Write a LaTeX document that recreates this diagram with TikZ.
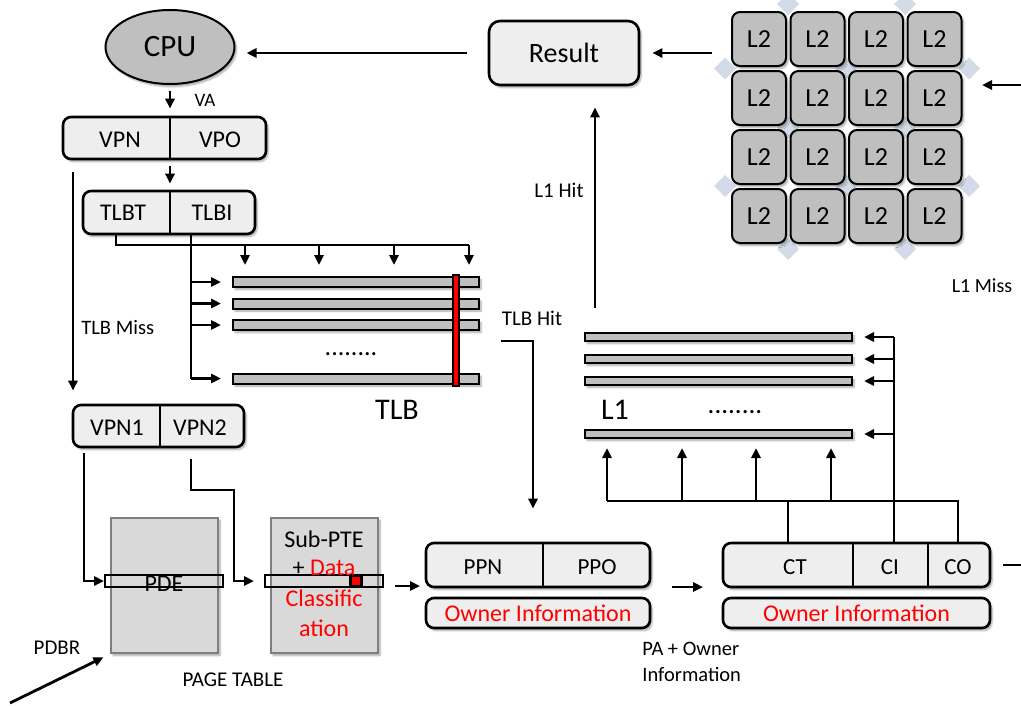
\documentclass[tikz,border=0pt]{standalone}
\usepackage{fontspec}
\setmainfont{Carlito}
\usetikzlibrary{arrows.meta,shapes.geometric,shadows.blur,calc}
\newcommand\fsz[1]{\fontsize{#1}{#1}\selectfont}
\definecolor{cpugray}{HTML}{BFBFBF}
\definecolor{rowgray}{HTML}{BFBFBF}
\definecolor{pagegray}{HTML}{D9D9D9}
\definecolor{pageedge}{HTML}{7F7F7F}
\definecolor{boxfill}{HTML}{EEEEEE}
\definecolor{diamcol}{HTML}{D3DBE8}
\begin{document}
\begin{tikzpicture}[x=1pt,y=-1pt,line width=2.8pt,
  arr/.style={-{Triangle[length=10pt,width=9pt]},line width=2.8pt},
  shade/.style={blur shadow={shadow blur steps=6,shadow xshift=2pt,shadow yshift=-2.5pt,shadow opacity=35}},
  field/.style={draw,rounded corners=8pt,fill=boxfill,line width=2.6pt,inner sep=0pt,shade},
  row/.style={draw,fill=rowgray,line width=2pt,inner sep=0pt,shade},
  tile/.style={draw,fill=rowgray,rounded corners=8pt,line width=2pt,inner sep=0pt,
    minimum width=54pt,minimum height=54pt,font=\fsz{26},shade},
  page/.style={draw=pageedge,fill=pagegray,line width=2.4pt,inner sep=0pt,
    minimum width=107pt,minimum height=135pt,shade},
  slot/.style={draw,line width=2pt,inner sep=0pt,minimum width=118pt,minimum height=12pt},
  lbl/.style={inner sep=0pt},
  divider/.style={line width=1.6pt}]
\useasboundingbox (0,0) rectangle (1021,705);

% ---------- CPU and result ----------
\node[ellipse,draw,fill=cpugray,line width=2pt,minimum width=129pt,minimum height=74pt,
  font=\fsz{31},shade] (cpu) at (170,47) {CPU};
\node[field,rounded corners=11pt,minimum width=150pt,minimum height=64pt,font=\fsz{28}]
  (result) at (564,53) {Result};
\draw[arr,shorten <=21pt,shorten >=11pt] (result.west) -- (result.west -| cpu.east);

% ---------- virtual address ----------
\node[field,minimum width=203pt,minimum height=42pt] (va) at (164.5,138) {};
\draw[divider] (170,117) -- (170,159);
\node[lbl,font=\fsz{24}] (vpn) at (120,140) {VPN};
\node[lbl,font=\fsz{24}] (vpo) at (220,140) {VPO};
\draw[arr,shorten <=6pt,shorten >=7pt] (cpu.south) -- (va.north -| cpu.south);
\node[lbl,font=\fsz{19}] (valbl) at (205,100) {VA};

\node[field,minimum width=172pt,minimum height=43pt] (tlbidx) at (169,212.5) {};
\draw[divider] (170,191) -- (170,234);
\node[lbl,font=\fsz{24}] (tlbt) at (123,213) {TLBT};
\node[lbl,font=\fsz{24}] (tlbi) at (212,213) {TLBI};
\draw[arr,shorten <=6pt,shorten >=6pt] (va.south -| cpu.south) -- (tlbidx.north -| cpu.south);

% ---------- TLB ----------
\foreach \i/\y in {1/282,2/303.5,3/325,4/378.5}
  \node[row,minimum width=246pt,minimum height=10pt] (tlbrow\i) at (356,\y) {};
\node[draw,fill=red,line width=2pt,inner sep=0pt,minimum width=6pt,minimum height=111pt]
  (tlbhit) at (456,330.5) {};
\node[lbl,font=\fsz{26}] (tlbdots) at (351,354) {........};
\node[lbl,font=\fsz{30}] (tlblbl) at (397,410) {TLB};

\coordinate (tapT) at (116,234);
\coordinate (tapI) at (191,234);
\coordinate (busR) at (469,245);
\draw (tapT) |- (busR);
\foreach \x in {245,319,394,469}
  \draw[arr,shorten >=12pt] (\x,245) -- (\x,277);
\draw (tapI) -- (tapI |- tlbrow4);
\foreach \i in {1,...,4}
  \draw[arr,shorten >=11pt] (tapI |- tlbrow\i) -- (tlbrow\i.west);

% ---------- TLB miss path ----------
\node[field,minimum width=171pt,minimum height=42pt] (vpn12) at (158.5,426) {};
\draw[divider] (160,405) -- (160,447);
\node[lbl,font=\fsz{24}] (vpn1) at (117,428) {VPN1};
\node[lbl,font=\fsz{24}] (vpn2) at (200,428) {VPN2};
\coordinate (missTop) at (73,172);
\draw[arr,shorten >=13pt] (missTop) -- (missTop |- vpn12.north);
\node[lbl,font=\fsz{20.5},anchor=west] (misslbl) at (80,328) {TLB Miss};

% ---------- page table ----------
\node[page] (pde) at (164.5,585.5) {};
\node[page] (pte) at (324.5,585.5) {};
\node[slot] (pdeslot) at (164,581) {};
\node[slot] (pteslot) at (324,581) {};
\node[lbl,font=\fsz{24}] (pdelbl) at (164,584) {PDE};
\node[draw,fill=red,line width=2.4pt,inner sep=0pt,minimum width=11pt,minimum height=11pt]
  (classbit) at (356,581) {};
\node[lbl,font=\fsz{24}] (ptel1) at (324,539) {Sub-PTE};
\node[lbl,font=\fsz{24}] (ptel2) at (324,568) {+ \textcolor{red}{Data}};
\node[lbl,font=\fsz{24},text=red] (ptel3) at (324,598) {Classific};
\node[lbl,font=\fsz{24},text=red] (ptel4) at (324,628) {ation};

\coordinate (v1out) at (84,453);
\coordinate (v2out) at (191,459);
\coordinate (v2bend) at (234,490);
\draw[arr] (v1out) |- (pdeslot.west);
\draw[arr,shorten >=10pt] (v2out) |- (v2bend) |- (pteslot.west);

\node[lbl,font=\fsz{21}] (pdbr) at (57,648) {PDBR};
\coordinate (pdbrS) at (10,703);
\draw[arr,shorten >=7pt] (pdbrS) -- (pde.south west);
\node[lbl,font=\fsz{21}] (ptlbl) at (233,680) {PAGE TABLE};

% ---------- physical address ----------
\node[field,minimum width=224pt,minimum height=44pt] (pa) at (538,565) {};
\draw[divider] (543,543) -- (543,587);
\node[lbl,font=\fsz{23}] (ppn) at (483,567) {PPN};
\node[lbl,font=\fsz{23}] (ppo) at (597,567) {PPO};
\node[field,minimum width=224pt,minimum height=30pt,font=\fsz{24},text=red]
  (own1) at (538,613) {Owner Information};
\coordinate (pain) at (426,586);
\draw[arr,shorten <=11pt,shorten >=6pt] (pteslot.east |- pain) -- (pain);

\coordinate (hitStart) at (501,341);
\coordinate (hitBend) at (533,341);
\draw[arr,shorten >=33pt] (hitStart) -- (hitBend) -- (hitBend |- pa.north);
\node[lbl,font=\fsz{21}] (hitlbl) at (532,318) {TLB Hit};

% ---------- cache address ----------
\node[field,minimum width=267pt,minimum height=44pt] (ca) at (856.5,565) {};
\draw[divider] (853,543) -- (853,587);
\draw[divider] (928,543) -- (928,587);
\node[lbl,font=\fsz{23}] (ct) at (795,567) {CT};
\node[lbl,font=\fsz{23}] (ci) at (890,567) {CI};
\node[lbl,font=\fsz{23}] (co) at (958,567) {CO};
\node[field,minimum width=267pt,minimum height=30pt,font=\fsz{24},text=red]
  (own2) at (856.5,613) {Owner Information};
\coordinate (caout) at (650,587);
\coordinate (cain) at (723,587);
\draw[arr,shorten <=22pt,shorten >=20pt] (caout) -- (cain);
\node[lbl,font=\fsz{20.5},anchor=west,align=left] (palbl) at (641,662) {PA + Owner\\[5pt]Information};

% ---------- L1 ----------
\foreach \i/\y in {1/337,2/359,3/381,4/434}
  \node[row,minimum width=267pt,minimum height=8pt] (l1row\i) at (718.5,\y) {};
\node[lbl,font=\fsz{30}] (l1lbl) at (615,410) {L1};
\node[lbl,font=\fsz{27}] (l1dots) at (735,412) {........};

\coordinate (ctTop) at (788,543);
\coordinate (ciTop) at (894,543);
\coordinate (coTop) at (958,543);
\coordinate (busL) at (607,501);
\draw (ctTop) -- (ctTop |- busL);
\draw (busL) -| (coTop);
\draw (ciTop) -- (ciTop |- l1row1);
\foreach \x in {607,682,756,831}
  \draw[arr,shorten >=11pt] (\x,501) -- (\x,437);
\foreach \i in {1,...,4}
  \draw[arr,shorten >=11pt] (ciTop |- l1row\i) -- (l1row\i.east);

\coordinate (l1hit) at (595,308);
\draw[arr,shorten >=21pt] (l1hit) -- (l1hit |- result.south);
\node[lbl,font=\fsz{21}] (l1hitlbl) at (559,190) {L1 Hit};

% ---------- L2 ----------
\foreach \x/\y in {788/4,905/4,725/68.5,846/68.5,969/68.5,788/127.5,905/127.5,
                   725/186,846/186,969/186,788/249,905/249}
  \fill[diamcol] (\x,\y-11) -- (\x+11,\y) -- (\x,\y+11) -- (\x-11,\y) -- cycle;
\foreach \r in {0,...,3}
  \foreach \c in {0,...,3}
    \node[tile] (l2-\r-\c) at ({759+58.5*\c},{39+59*\r}) {L2};
\node[inner sep=0pt,minimum width=230pt,minimum height=230pt] (l2) at (847,127) {};
\draw[arr,shorten <=19pt,shorten >=12pt] (l2.west |- result) -- (result.east);

\coordinate (loopR) at (1030,85);
\coordinate (l2in) at (962,85);
\draw[arr,shorten <=12pt,shorten >=20pt] (ca.east) -| (loopR) -- (l2in);
\node[lbl,font=\fsz{20}] (misslbl2) at (982,286) {L1 Miss};
\end{tikzpicture}
\end{document}
